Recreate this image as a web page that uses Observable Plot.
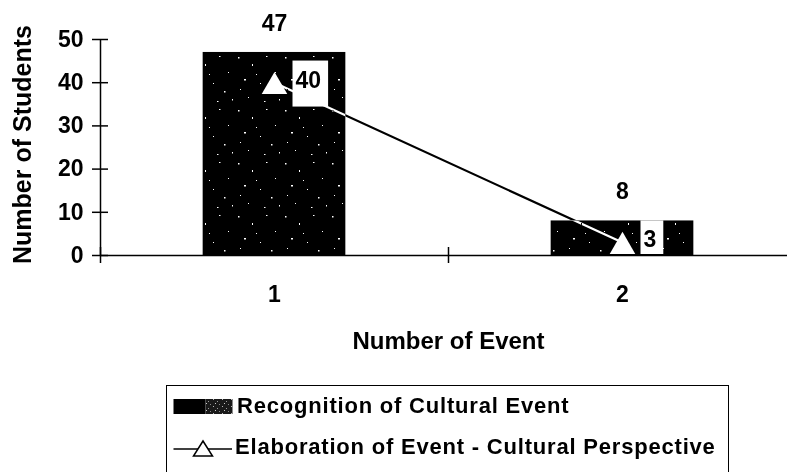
<!DOCTYPE html>
<html>
<head>
<meta charset="utf-8">
<script src="https://cdn.jsdelivr.net/npm/d3@7"></script>
<script src="https://cdn.jsdelivr.net/npm/@observablehq/plot@0.6"></script>
<style>
  html, body { margin: 0; padding: 0; background: #fff; }
  body { font-family: "Liberation Sans", Arial, sans-serif; color: #000; }
  #wrap { position: relative; width: 787px; height: 472px; overflow: hidden; background: #fff; }
  #chart svg { display: block; }
  #legend {
    position: absolute; left: 166px; top: 385px; width: 563px; height: 120px;
    border: 1.5px solid #000; box-sizing: border-box;
    font-weight: bold; font-size: 22px; letter-spacing: 0.8px; white-space: nowrap;
  }
  .row { position: absolute; left: 0; height: 30px; display: flex; align-items: center; }
  .row svg { display: block; flex: none; }
  .row span { margin-left: 4px; line-height: 30px; }
</style>
</head>
<body>
<svg width="0" height="0" style="position:absolute">
  <defs>
    <pattern id="speckle" patternUnits="userSpaceOnUse" width="47" height="53">
      <rect width="47" height="53" fill="#000"/>
      <rect x="3" y="4" width="1.5" height="1.5" fill="#fff"/>
      <rect x="17" y="11" width="1" height="2" fill="#fff"/>
      <rect x="31" y="3" width="1.5" height="1" fill="#fff"/>
      <rect x="40" y="19" width="1" height="1" fill="#fff"/>
      <rect x="9" y="26" width="2" height="1.5" fill="#fff"/>
      <rect x="25" y="30" width="1" height="1" fill="#fff"/>
      <rect x="36" y="38" width="1.5" height="1.5" fill="#fff"/>
      <rect x="13" y="44" width="1" height="1" fill="#fff"/>
      <rect x="29" y="48" width="1.5" height="1" fill="#fff"/>
      <rect x="44" y="46" width="1" height="1.5" fill="#fff"/>
      <rect x="5" y="36" width="1" height="1" fill="#fff"/>
      <rect x="21" y="21" width="1" height="1" fill="#fff"/>
    </pattern>
    <pattern id="speckle2" patternUnits="userSpaceOnUse" width="9" height="7">
      <rect width="9" height="7" fill="#1a1a1a"/>
      <rect x="1" y="1" width="1" height="1" fill="#bbb"/>
      <rect x="5" y="3" width="1" height="1" fill="#999"/>
      <rect x="3" y="5" width="1" height="1" fill="#ccc"/>
      <rect x="7" y="6" width="1" height="1" fill="#888"/>
    </pattern>
  </defs>
</svg>

<div id="wrap">
  <div id="chart"></div>
  <div id="legend"></div>
</div>

<script>
// ---- data ----
const categories = [1, 2];
const recognition = [47, 8];          // Recognition of Cultural Event (bars)
const elaboration = [40, 3];          // Elaboration of Event - Cultural Perspective (line)
const yTicks = [0, 10, 20, 30, 40, 50];
const xBoundaries = [0.5, 1.5, 2.5];
const seriesNames = ["Recognition of Cultural Event", "Elaboration of Event - Cultural Perspective"];
const xTitle = "Number of Event";
const yTitle = "Number of Students";

// ---- tables built from the arrays ----
const bars = categories.map((c, i) => ({cat: c, value: recognition[i]}));
const pts = categories.map((c, i) => ({cat: c, value: elaboration[i]}));

const FONT = '"Liberation Sans", Arial, Helvetica, sans-serif';
const halfBar = 0.205;

const chart = Plot.plot({
  width: 787,
  height: 375,
  marginTop: 39,
  marginLeft: 100,
  marginRight: 0,
  marginBottom: 120,
  style: {fontFamily: FONT, fontWeight: "bold", fontSize: "23px", color: "#000", background: "#fff", overflow: "visible"},
  x: {domain: [0.5, 2.5], range: [100, 796], axis: null},
  y: {domain: [0, 50], axis: null},
  marks: [
    Plot.rectY(bars, {x1: d => d.cat - halfBar, x2: d => d.cat + halfBar, y1: 0, y2: "value", fill: "url(#speckle)"}),
    Plot.ruleY([0], {stroke: "#000", strokeWidth: 1.5}),
    Plot.ruleX([0.5], {stroke: "#000", strokeWidth: 1.5}),
    Plot.axisY({ticks: yTicks, tickSize: 16, insetLeft: 8, tickFormat: () => "", strokeWidth: 1.5, label: null}),
    Plot.axisY({ticks: yTicks, tickSize: 0, tickPadding: 17, tickFormat: d => String(d), fontSize: 23, fontWeight: "bold", label: null}),
    Plot.axisX({ticks: xBoundaries, tickSize: 16, insetBottom: 8, tickFormat: () => "", strokeWidth: 1.5, label: null}),
    Plot.axisX({ticks: categories, tickSize: 0, tickPadding: 30, tickFormat: d => String(d), fontSize: 23, fontWeight: "bold", label: null}),
    Plot.line(pts, {x: "cat", y: "value", stroke: "#fff", strokeWidth: 2.2, mixBlendMode: "difference"}),
    Plot.text(pts, {x: "cat", y: "value", text: d => String(d.value), textAnchor: "start", dx: 21, dy: -2.5, fontSize: 23, fontWeight: "bold", ariaLabel: () => "line-label", ariaDescription: "line-label"}),
    Plot.dot(pts, {x: "cat", y: "value", symbol: "triangle", r: 9.5, fill: "#fff", stroke: "none", dy: 4}),
    Plot.text(bars, {x: "cat", y: "value", text: d => String(d.value), dy: -29, fontSize: 23, fontWeight: "bold"}),
    Plot.text([yTitle], {frameAnchor: "left", textAnchor: "middle", lineAnchor: "middle", dx: -78, dy: -3, rotate: -90, fontSize: 25, fontWeight: "bold"}),
    Plot.text([xTitle], {frameAnchor: "bottom", textAnchor: "middle", lineAnchor: "middle", dx: 4.5, dy: 86, fontSize: 24, fontWeight: "bold"})
  ]
});

document.getElementById("chart").append(chart);

// white boxes behind the line's value labels
(function () {
  const svgRect = chart.getBoundingClientRect();
  const y0 = chart.scale("y").apply(0);
  const set = new Set();
  for (const el of chart.querySelectorAll('[aria-label="line-label"], [aria-description="line-label"]')) {
    if (el.tagName.toLowerCase() === "text") set.add(el);
    else for (const t of el.querySelectorAll("text")) set.add(t);
  }
  const texts = [...set];
  if (!texts.length) return;
  const g = texts[0].closest("g") || texts[0].parentNode;
  for (const t of texts) {
    const r = t.getBoundingClientRect();
    const left = r.left - svgRect.left - 3;
    const right = r.right - svgRect.left + 7;
    const cy = (r.top + r.bottom) / 2 - svgRect.top;
    const top = cy - 19;
    const bottom = Math.min(cy + 27, y0 - 1);
    const rect = document.createElementNS("http://www.w3.org/2000/svg", "rect");
    rect.setAttribute("x", left);
    rect.setAttribute("y", top);
    rect.setAttribute("width", right - left);
    rect.setAttribute("height", bottom - top);
    rect.setAttribute("fill", "#fff");
    g.parentNode.insertBefore(rect, g);
  }
})();

// legend
(function () {
  const lg = document.getElementById("legend");
  const row1 = document.createElement("div");
  row1.className = "row";
  row1.style.top = "5px";
  row1.innerHTML =
    '<svg width="72" height="30"><rect x="6.5" y="8" width="32" height="15" fill="#000"/>' +
    '<rect x="38.5" y="8" width="27" height="15" fill="url(#speckle2)"/></svg>';
  const s1 = document.createElement("span");
  s1.textContent = seriesNames[0];
  s1.style.marginLeft = "-2px";
  row1.append(s1);

  const row2 = document.createElement("div");
  row2.className = "row";
  row2.style.top = "46px";
  row2.innerHTML =
    '<svg width="72" height="30"><line x1="6.5" x2="65" y1="17" y2="17" stroke="#000" stroke-width="1.5"/>' +
    '<path d="M36,9 L45.5,24 L26.5,24 Z" fill="#fff" stroke="#000" stroke-width="1.5"/></svg>';
  const s2 = document.createElement("span");
  s2.textContent = seriesNames[1];
  s2.style.marginLeft = "-4px";
  row2.append(s2);

  lg.append(row1, row2);
})();
</script>
</body>
</html>
